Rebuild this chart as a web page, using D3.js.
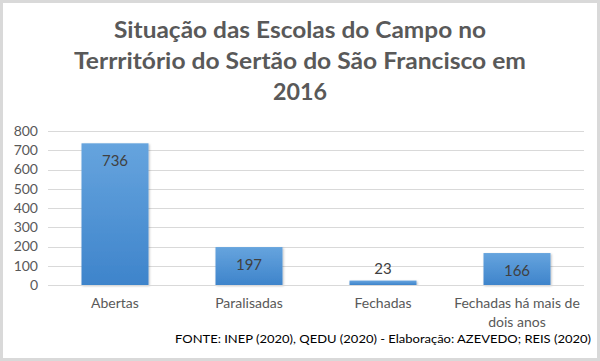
<!DOCTYPE html>
<html>
<head>
<meta charset="utf-8">
<script src="https://cdn.jsdelivr.net/npm/d3@7"></script>
<style>
  body { margin: 0; background: #fff; }
  svg { display: block; font-family: Lato, "Open Sans", sans-serif; }
</style>
</head>
<body>
<svg width="600" height="361"></svg>
<script>
var categories = ["Abertas", "Paralisadas", "Fechadas", "Fechadas há mais de dois anos"];
var values = [736, 197, 23, 166];
var yTicks = [0, 100, 200, 300, 400, 500, 600, 700, 800];
var titleLines = ["Situação das Escolas do Campo no", "Terrritório do Sertão do São Francisco em", "2016"];
var source = "FONTE: INEP (2020),  QEDU (2020) - Elaboração: AZEVEDO; REIS (2020)";

var svg = d3.select("svg"),
    width = +svg.attr("width"),
    height = +svg.attr("height");

var margin = {top: 131, right: 16, bottom: 76, left: 48};

// outer frame
svg.append("rect")
    .attr("x", 1.5).attr("y", 1.5)
    .attr("width", width - 3).attr("height", height - 3)
    .attr("fill", "#fff")
    .attr("stroke", "#d9d9d9")
    .attr("stroke-width", 3);

var defs = svg.append("defs");
var grad = defs.append("linearGradient")
    .attr("id", "barGrad")
    .attr("x1", 0).attr("y1", 0).attr("x2", 0).attr("y2", 1);
grad.append("stop").attr("offset", "0%").attr("stop-color", "#66a4de");
grad.append("stop").attr("offset", "100%").attr("stop-color", "#3e84cb");

var shadow = defs.append("filter").attr("id", "shadow")
    .attr("x", "-20%").attr("y", "-20%").attr("width", "140%").attr("height", "140%");
shadow.append("feDropShadow")
    .attr("dx", 1).attr("dy", 1).attr("stdDeviation", 1.2)
    .attr("flood-color", "#000").attr("flood-opacity", 0.25);

var x = d3.scaleBand()
    .domain(categories)
    .range([margin.left, width - margin.right])
    .paddingInner(0.5)
    .paddingOuter(0.25);

var y = d3.scaleLinear()
    .domain([0, 800])
    .range([height - margin.bottom, margin.top]);

// title (widths matched to the original Calibri rendering)
var titleWidths = [372, 452, 54];
svg.append("g").selectAll("text")
  .data(titleLines)
  .enter().append("text")
    .attr("x", 300)
    .attr("y", function(d, i) { return 38 + i * 31; })
    .attr("text-anchor", "middle")
    .attr("font-size", 23)
    .attr("font-weight", "bold")
    .attr("fill", "#595959")
    .attr("textLength", function(d, i) { return titleWidths[i]; })
    .attr("lengthAdjust", "spacingAndGlyphs")
    .text(function(d) { return d; });

// gridlines
svg.append("g").selectAll("line")
  .data(yTicks)
  .enter().append("line")
    .attr("x1", margin.left)
    .attr("x2", width - margin.right)
    .attr("y1", function(d) { return Math.round(y(d)) + 0.5; })
    .attr("y2", function(d) { return Math.round(y(d)) + 0.5; })
    .attr("stroke", "#d9d9d9")
    .attr("stroke-width", 1);

// y axis labels
var yAxis = d3.axisLeft(y).tickValues(yTicks).tickSize(0).tickPadding(10);
var gy = svg.append("g")
    .attr("transform", "translate(" + margin.left + ",0)")
    .call(yAxis);
gy.select(".domain").remove();
gy.selectAll("text")
    .attr("font-family", "Lato, sans-serif")
    .attr("font-size", 14)
    .attr("fill", "#595959");

// bars
svg.append("g").selectAll("rect")
  .data(values)
  .enter().append("rect")
    .attr("x", function(d, i) { return x(categories[i]); })
    .attr("y", function(d) { return y(d); })
    .attr("width", x.bandwidth())
    .attr("height", function(d) { return y(0) - y(d); })
    .attr("fill", "url(#barGrad)")
    .attr("filter", "url(#shadow)");

// baseline
svg.append("line")
    .attr("x1", margin.left).attr("x2", width - margin.right)
    .attr("y1", Math.round(y(0)) + 0.5).attr("y2", Math.round(y(0)) + 0.5)
    .attr("stroke", "#d9d9d9");

// value labels
svg.append("g").selectAll("text")
  .data(values)
  .enter().append("text")
    .attr("x", function(d, i) { return x(categories[i]) + x.bandwidth() / 2; })
    .attr("y", function(d) {
      var h = y(0) - y(d);
      return h > 30 ? y(d) + 23 : y(d) - 7;
    })
    .attr("text-anchor", "middle")
    .attr("font-size", 15)
    .attr("fill", "#404040")
    .text(function(d) { return d; });

// category labels
var cat = svg.append("g").selectAll("text")
  .data(categories)
  .enter().append("text")
    .attr("text-anchor", "middle")
    .attr("font-size", 14)
    .attr("fill", "#595959");

cat.each(function(d, i) {
  var lines = d === "Fechadas há mais de dois anos" ? ["Fechadas há mais de", "dois anos"] : [d];
  var cx = x(d) + x.bandwidth() / 2;
  d3.select(this).selectAll("tspan")
    .data(lines)
    .enter().append("tspan")
      .attr("x", cx)
      .attr("y", function(l, j) { return 308 + j * 19; })
      .text(function(l) { return l; });
});

// source
svg.append("text")
    .attr("x", 591)
    .attr("y", 343)
    .attr("text-anchor", "end")
    .attr("font-size", 11.5)
    .attr("fill", "#000")
    .attr("textLength", 416)
    .attr("lengthAdjust", "spacingAndGlyphs")
    .text(source);
</script>
</body>
</html>
